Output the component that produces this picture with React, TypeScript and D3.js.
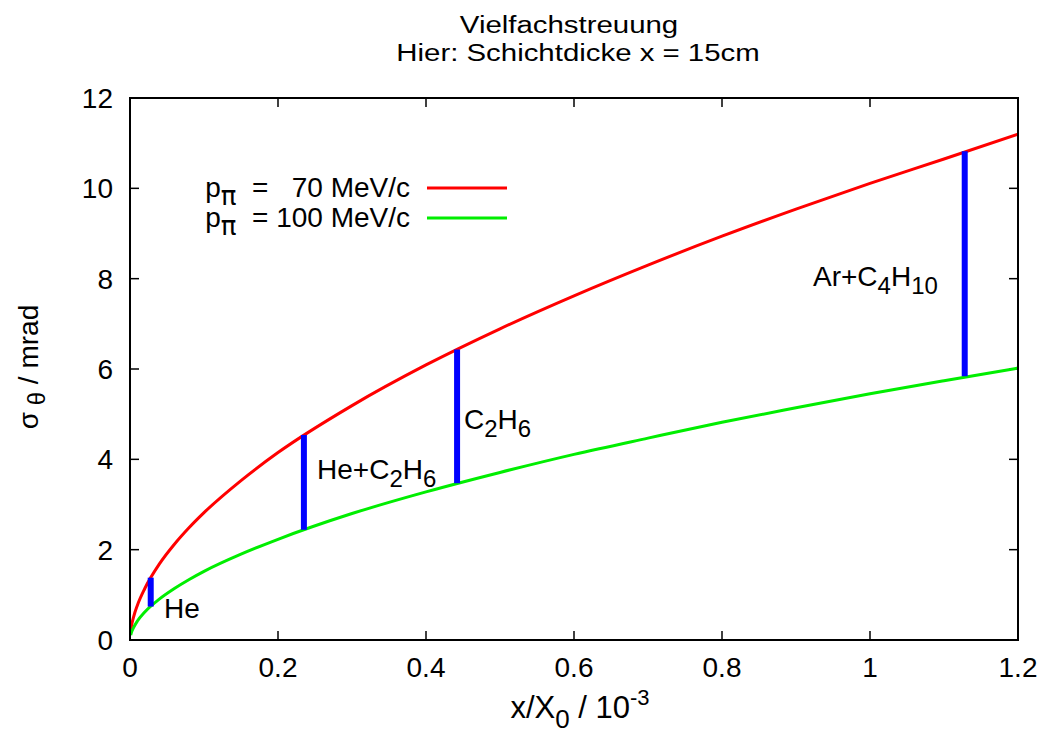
import React from "react";
import * as d3 from "d3";

// Sampled angular spread (mrad) against layer thickness x/X0 (in 10^-3)
const thickness = [0.001, 0.002, 0.005, 0.01, 0.02, 0.04, 0.06, 0.08, 0.1, 0.15, 0.2, 0.3, 0.4, 0.5, 0.6, 0.7, 0.8, 0.9, 1.0, 1.1, 1.2];
const sigma70 = [0.21, 0.31, 0.52, 0.77, 1.14, 1.69, 2.12, 2.49, 2.82, 3.53, 4.15, 5.19, 6.09, 6.89, 7.62, 8.3, 8.94, 9.54, 10.11, 10.65, 11.2];
const sigma100 = [0.11, 0.17, 0.28, 0.42, 0.62, 0.91, 1.14, 1.34, 1.52, 1.9, 2.23, 2.8, 3.28, 3.71, 4.11, 4.47, 4.82, 5.14, 5.45, 5.74, 6.02];

// Gas mixtures: thickness and spread range between the two momenta
const gases = ["He", "He+C2H6", "C2H6", "Ar+C4H10"];
const gasThickness = [0.028, 0.235, 0.442, 1.128];
const gasLow = [0.74, 2.44, 3.47, 5.84];
const gasHigh = [1.38, 4.54, 6.43, 10.82];

const xTicks = [0, 0.2, 0.4, 0.6, 0.8, 1, 1.2];
const yTicks = [0, 2, 4, 6, 8, 10, 12];

const W = 1047;
const H = 733;
const left = 130, right = 1018, top = 98, bottom = 640;
const FONT = "'Liberation Sans', Arial, Helvetica, sans-serif";
const FS = 28;

function Chem({ name, x, y }: { name: string; x: number; y: number }) {
  // split formula into normal text and subscript digit runs
  const parts = name.match(/[A-Za-z+]+|\d+/g) || [];
  const out: React.ReactNode[] = [];
  let sub = false;
  parts.forEach((p, i) => {
    const isNum = /^\d+$/.test(p);
    const dy = isNum && !sub ? 8 : !isNum && sub ? -8 : 0;
    sub = isNum;
    out.push(
      <tspan key={i} dy={dy} fontSize={isNum ? 24 : FS}>
        {p}
      </tspan>
    );
  });
  return (
    <text x={x} y={y} fontFamily={FONT} fontSize={FS} fill="#000">
      {out}
    </text>
  );
}

export default function App() {
  const xScale = d3.scaleLinear().domain([0, 1.2]).range([left, right]);
  const yScale = d3.scaleLinear().domain([0, 12]).range([bottom, top]);

  const line = (vals: number[]) =>
    d3
      .line<number>()
      .x((_, i) => xScale(thickness[i]))
      .y((d) => yScale(d))
      .curve(d3.curveMonotoneX)(vals) || "";

  const tickLen = 9;
  const labelPos: [number, number][] = [
    [164, 618],
    [317, 479],
    [464, 429],
    [813, 286],
  ];

  return (
    <svg
      width={W}
      height={H}
      viewBox={`0 0 ${W} ${H}`}
      style={{ position: "absolute", left: 0, top: 0, background: "#fff" }}
    >
      {/* title, set in a slightly widened face */}
      <text transform="translate(569,33) scale(1.2,1)" textAnchor="middle" fontFamily={FONT} fontSize={24.5}>
        Vielfachstreuung
      </text>
      <text transform="translate(578,61) scale(1.2,1)" textAnchor="middle" fontFamily={FONT} fontSize={24.5}>
        Hier: Schichtdicke x = 15cm
      </text>

      {/* ticks on all four sides, pointing inward */}
      {yTicks.map((t) => (
        <g key={"y" + t}>
          <line x1={left} x2={left + tickLen} y1={yScale(t)} y2={yScale(t)} stroke="#000" strokeWidth={1.5} />
          <line x1={right} x2={right - tickLen} y1={yScale(t)} y2={yScale(t)} stroke="#000" strokeWidth={1.5} />
          <text x={113} y={yScale(t) + 10} textAnchor="end" fontFamily={FONT} fontSize={FS}>
            {t}
          </text>
        </g>
      ))}
      {xTicks.map((t) => (
        <g key={"x" + t}>
          <line x1={xScale(t)} x2={xScale(t)} y1={bottom} y2={bottom - tickLen} stroke="#000" strokeWidth={1.5} />
          <line x1={xScale(t)} x2={xScale(t)} y1={top} y2={top + tickLen} stroke="#000" strokeWidth={1.5} />
          <text x={xScale(t)} y={677} textAnchor="middle" fontFamily={FONT} fontSize={FS}>
            {t}
          </text>
        </g>
      ))}

      {/* curves */}
      <path d={line(sigma70)} fill="none" stroke="#ff0000" strokeWidth={3} />
      <path d={line(sigma100)} fill="none" stroke="#00ee00" strokeWidth={3} />

      {/* gas ranges */}
      {gases.map((g, i) => (
        <g key={g}>
          <line
            x1={xScale(gasThickness[i])}
            x2={xScale(gasThickness[i])}
            y1={yScale(gasLow[i])}
            y2={yScale(gasHigh[i])}
            stroke="#0000ff"
            strokeWidth={6}
          />
          <Chem name={g} x={labelPos[i][0]} y={labelPos[i][1]} />
        </g>
      ))}

      {/* frame */}
      <rect x={left} y={top} width={right - left} height={bottom - top} fill="none" stroke="#000" strokeWidth={2} />

      {/* legend */}
      <text x={410} y={197} textAnchor="end" fontFamily={FONT} fontSize={FS} xmlSpace="preserve">
        <tspan>p</tspan>
        <tspan dy={8} fontSize={26} fontFamily="'DejaVu Sans', sans-serif">π</tspan>
        <tspan dy={-8}>{"  =   70 MeV/c"}</tspan>
      </text>
      <line x1={427} x2={507} y1={188} y2={188} stroke="#ff0000" strokeWidth={3} />
      <text x={410} y={227} textAnchor="end" fontFamily={FONT} fontSize={FS} xmlSpace="preserve">
        <tspan>p</tspan>
        <tspan dy={8} fontSize={26} fontFamily="'DejaVu Sans', sans-serif">π</tspan>
        <tspan dy={-8}>{"  = 100 MeV/c"}</tspan>
      </text>
      <line x1={427} x2={507} y1={218} y2={218} stroke="#00ee00" strokeWidth={3} />

      {/* axis titles */}
      <text x={580} y={718} textAnchor="middle" fontFamily={FONT} fontSize={31}>
        <tspan>x/X</tspan>
        <tspan dy={10} fontSize={26}>0</tspan>
        <tspan dy={-10}>{" / 10"}</tspan>
        <tspan dy={-13} fontSize={22}>-3</tspan>
      </text>
      <text
        transform="translate(38,367) rotate(-90)"
        textAnchor="middle"
        fontFamily={FONT}
        fontSize={FS}
        xmlSpace="preserve"
      >
        <tspan>σ</tspan>
        <tspan dy={7} fontSize={24}>{" θ"}</tspan>
        <tspan dy={-7}>{" / mrad"}</tspan>
      </text>
    </svg>
  );
}
